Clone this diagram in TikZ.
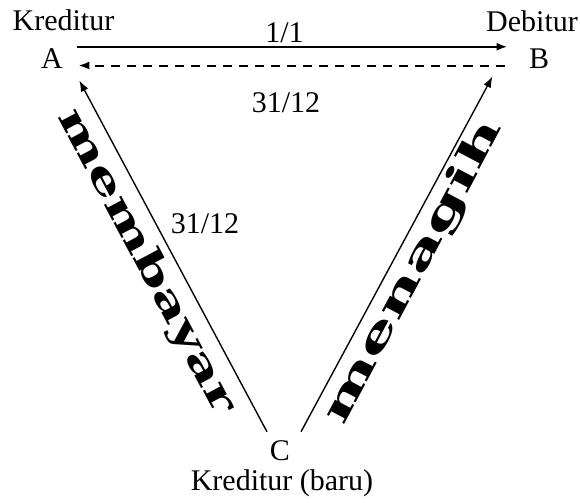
\documentclass[tikz,border=0pt]{standalone}
\usepackage{fontspec}
\setmainfont{Liberation Serif}
\newfontfamily\artfont{DejaVu Serif}
\usepackage{tikz}
\usetikzlibrary{arrows.meta,calc}

\begin{document}
\begin{tikzpicture}[
        x=0.4pt,y=-0.4pt,
        txt/.style={font=\fontsize{12}{14}\selectfont,inner sep=0pt,anchor=base},
        pnt/.style={txt,text height=7.9pt,text depth=0pt},
        art/.style={font=\artfont\bfseries\fontsize{15}{18}\selectfont,inner sep=0pt},
        arr/.style={-{Latex[length=4.4pt,width=3.2pt]}}]

        \useasboundingbox (0,0) rectangle (580,502);

        \node[txt] (kredA) at (63.5,30)  {Kreditur};
        \node[txt] (debB)  at (532,31)   {Debitur};
        \node[pnt] (A)     at (52,68)    {A};
        \node[pnt] (B)     at (539,68)   {B};
        \node[pnt] (C)     at (280,460)  {C};
        \node[txt] (kredC) at (282,490)  {Kreditur (baru)};

        \draw[arr,line width=0.8pt] ($(A.north east)+(14,-1)$)--($(B.north west)+(-21,-1)$);
        \draw[arr,line width=0.8pt,dash pattern=on 3.6pt off 2.8pt]
              ($(B.south west)+(-24,-3)$)--($(A.south east)+(15,-3)$);
        \draw[arr,line width=0.55pt] ($(C.north west)+(-2.5,-8)$)--($(A.south east)+(16,12)$);
        \draw[arr,line width=0.55pt] ($(C.north east)+(10.5,-8)$)--($(B.south west)+(-36,8)$);

        \node[txt] (tgl1) at (284.5,42) {1/1};
        \node[txt] (tgl2) at (286,112)  {31/12};
        \node[txt] (tgl3) at (205,233)  {31/12};

        \node[art,rotate=-62,xscale=1.55] (bayar) at (146,262) {membayar};
        \node[art,rotate=62,xscale=1.85]  (tagih) at (414,272) {menagih};

    \end{tikzpicture}
\end{document}
